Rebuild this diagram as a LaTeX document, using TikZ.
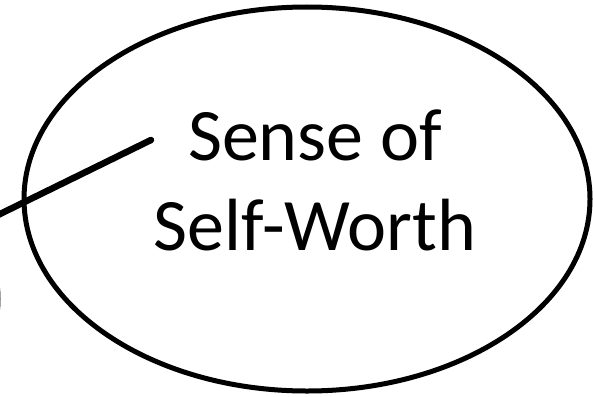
\documentclass[tikz,border=0pt]{standalone}
\usepackage{fontspec}
\setmainfont{Carlito}
\usetikzlibrary{shapes.geometric}

\begin{document}
\begin{tikzpicture}[x=1pt,y=-1pt,line cap=round,
  bubble/.style={draw,ellipse,line width=5pt,inner sep=0pt},
  label text/.style={font=\fontsize{74}{90}\selectfont,align=center}]
\useasboundingbox (0,0) rectangle (593,396);
\begin{scope}
\clip (0,0) rectangle (593,396);
\node[bubble,minimum width=397pt,minimum height=300pt] (left) at (-200.5,299) {};
\end{scope}
\node[bubble,minimum width=566pt,minimum height=384pt] (worth) at (307,199) {};
\node[label text] (worthtext) at (315,180) {Sense of\\Self-Worth};
\coordinate (tail) at (-2,215);
\coordinate (tip) at (151,140);
\draw[line width=6.5pt] (tail) -- (tip);
\end{tikzpicture}
\end{document}
